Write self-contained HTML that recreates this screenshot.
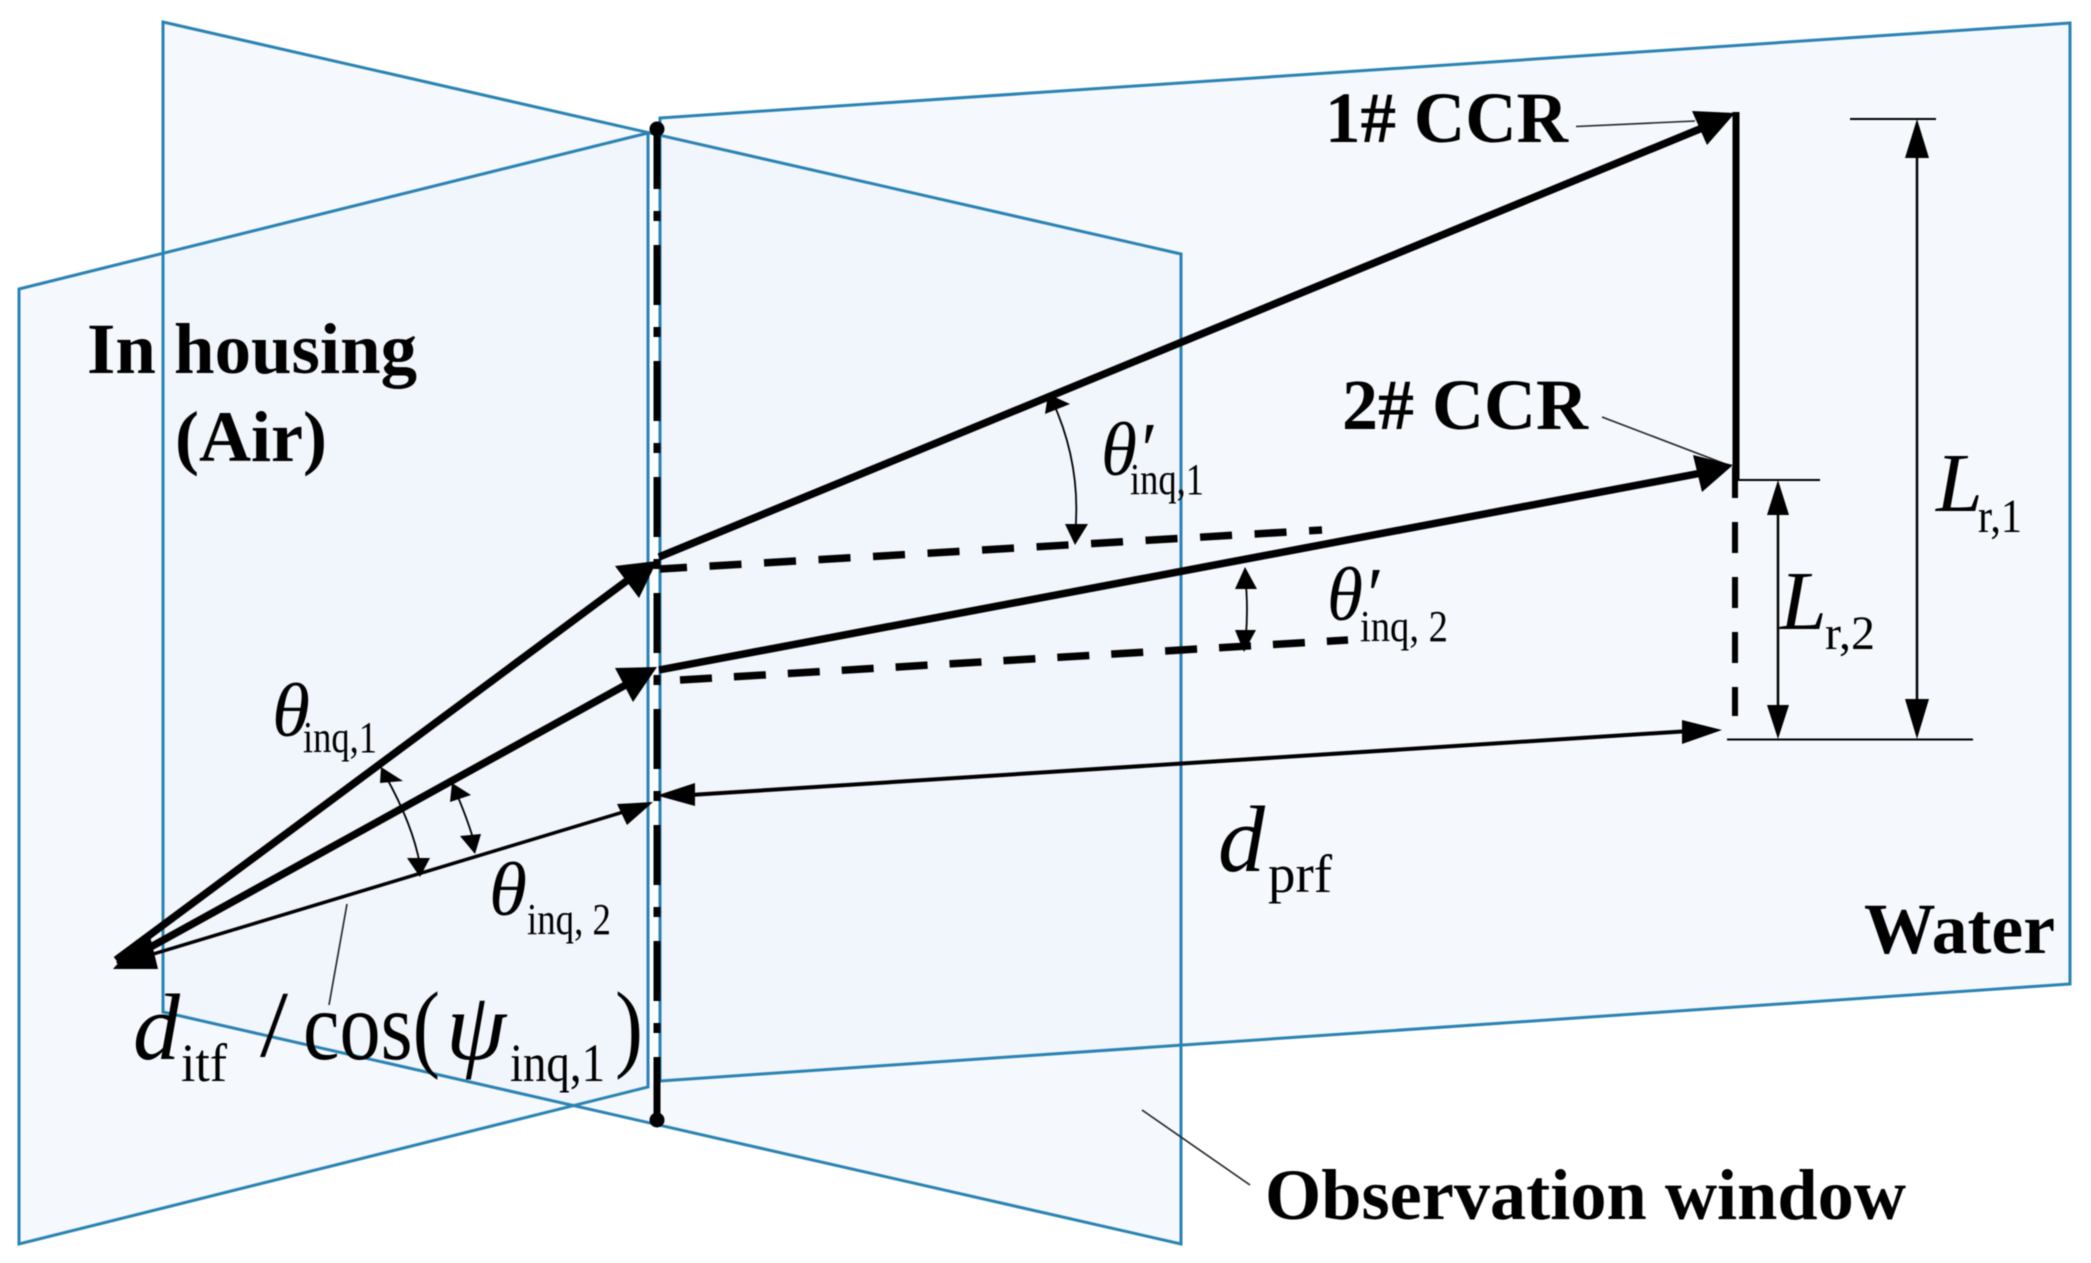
<!DOCTYPE html>
<html>
<head>
<meta charset="utf-8">
<style>
html,body{margin:0;padding:0;background:#fff;}
svg{display:block;filter:blur(0.6px);}
text{font-family:"Liberation Serif",serif;fill:#000;}
.b{font-weight:bold;font-size:72px;}
.i{font-style:italic;}
</style>
</head>
<body>
<svg width="2091" height="1263" viewBox="0 0 2091 1263" xmlns="http://www.w3.org/2000/svg">
<rect width="2091" height="1263" fill="#fff"/>
<!-- panel fills -->
<g fill="#eef4fc" fill-opacity="0.6" stroke="none">
<polygon points="660,118 2070,23 2070,984 660,1081"/>
<polygon points="163,22 1181,254 1181,1244 163,1012"/>
<polygon points="19,289 648,133 648,1087 19,1244"/>
</g>
<!-- central axis background -->
<line x1="654.5" y1="136" x2="654.5" y2="1082" stroke="#fff" stroke-width="9"/>
<!-- panel outlines -->
<g fill="none" stroke="#2a83b3" stroke-width="3" stroke-linejoin="miter">
<polygon points="660,118 2070,23 2070,984 660,1081"/>
<polygon points="163,22 1181,254 1181,1244 163,1012"/>
<polygon points="19,289 648,133 648,1087 19,1244"/>
</g>
<line x1="657" y1="129" x2="657" y2="1120" stroke="#000" stroke-width="7" stroke-dasharray="60 22 10 24"/>
<line x1="657" y1="1057" x2="657" y2="1120" stroke="#000" stroke-width="6"/>
<ellipse cx="657" cy="129" rx="7.5" ry="7.5" fill="#000"/>
<ellipse cx="657" cy="1120" rx="7.5" ry="7.5" fill="#000"/>
<!-- air rays -->
<g stroke="#000" fill="none">
<line x1="116" y1="960" x2="640" y2="571" stroke-width="7.5"/>
<line x1="118" y1="965" x2="640" y2="677" stroke-width="7.5"/>
<line x1="140" y1="958" x2="640" y2="807" stroke-width="3.5"/>
<!-- water rays -->
<line x1="659" y1="557" x2="1712" y2="124" stroke-width="7.5"/>
<line x1="659" y1="670" x2="1712" y2="471" stroke-width="7.5"/>
<!-- dashed -->
<line x1="660" y1="569" x2="1322" y2="530" stroke-width="7.5" stroke-dasharray="32 22.6" stroke-dashoffset="5"/>
<line x1="680" y1="680" x2="1348" y2="640" stroke-width="7.5" stroke-dasharray="32 22"/>
<!-- right vertical -->
<line x1="1736" y1="112" x2="1736" y2="480" stroke-width="7"/>
<line x1="1735" y1="467" x2="1735" y2="716" stroke-width="6" stroke-dasharray="31 24"/>
<!-- ticks -->
<line x1="1850" y1="119" x2="1936" y2="119" stroke-width="2"/>
<line x1="1738" y1="480" x2="1820" y2="480" stroke-width="2"/>
<line x1="1727" y1="739.5" x2="1973" y2="739.5" stroke-width="2"/>
<!-- dims -->
<line x1="1917" y1="150" x2="1917" y2="710" stroke-width="2.5"/>
<line x1="1778" y1="505" x2="1778" y2="715" stroke-width="2.5"/>
<line x1="690" y1="795" x2="1690" y2="731" stroke-width="4"/>
<!-- leaders -->
<g stroke="#222" stroke-width="1.6">
<line x1="1576" y1="126.5" x2="1695" y2="121"/>
<line x1="1602" y1="417" x2="1728" y2="465"/>
<line x1="1142" y1="1110" x2="1250" y2="1185"/>
<line x1="347" y1="904" x2="329" y2="1005"/>
</g>
<!-- arcs -->
<g stroke-width="1.8">
<path d="M385,775 Q413,825 420,865"/>
<path d="M455,790 Q468,820 475,845"/>
<path d="M1052,400 Q1082,465 1075,535"/>
<path d="M1245,575 Q1249,610 1245,645"/>
</g>
</g>
<!-- arrowheads -->
<g fill="#000">
<polygon points="657,561 615,566 639,598"/>
<polygon points="657,667 615,668 633,702"/>
<polygon points="653,802 617,804 627,825"/>
<polygon points="113,969 158,969 150,936 130,950"/>
<polygon points="1735,113 1692,111 1707,145"/>
<polygon points="1733,465 1693,455 1702,492"/>
<polygon points="1917,119 1905,158 1929,158"/>
<polygon points="1917,739 1905,699 1929,699"/>
<polygon points="1778,480 1767,515 1789,515"/>
<polygon points="1778,739 1767,705 1789,705"/>
<polygon points="657,795.5 695,783 695,806"/>
<polygon points="1722,730 1682,720 1682,744"/>
<polygon points="381,767 380,783 403,781"/>
<polygon points="420,877 407,858 430,858"/>
<polygon points="452,783 450,802 471,795"/>
<polygon points="475,854 460,836 481,834"/>
<polygon points="1048,394 1045,414 1070,404"/>
<polygon points="1075,545 1065,524 1088,524"/>
<polygon points="1245,567 1235,589 1257,589"/>
<polygon points="1244,652 1235,630 1256,630"/>
</g>
<!-- bold labels -->
<text class="b" x="87" y="373" textLength="330" lengthAdjust="spacingAndGlyphs">In housing</text>
<text class="b" x="175" y="461" textLength="152" lengthAdjust="spacingAndGlyphs">(Air)</text>
<text class="b" x="1325" y="142" textLength="243" lengthAdjust="spacingAndGlyphs">1# CCR</text>
<text class="b" x="1342" y="429" textLength="246" lengthAdjust="spacingAndGlyphs">2# CCR</text>
<text class="b" x="1864" y="953" textLength="191" lengthAdjust="spacingAndGlyphs">Water</text>
<text class="b" x="1265" y="1219" textLength="641" lengthAdjust="spacingAndGlyphs">Observation window</text>
<!-- math -->
<text class="i" x="272" y="736" font-size="76" textLength="38" lengthAdjust="spacingAndGlyphs">θ</text>
<text x="303" y="752" font-size="44" textLength="74" lengthAdjust="spacingAndGlyphs">inq,1</text>
<text class="i" x="489" y="915" font-size="76" textLength="38" lengthAdjust="spacingAndGlyphs">θ</text>
<text x="527" y="934" font-size="44" textLength="84" lengthAdjust="spacingAndGlyphs">inq, 2</text>
<text class="i" x="1101" y="475" font-size="76" textLength="52" lengthAdjust="spacingAndGlyphs">θ′</text>
<text x="1130" y="494" font-size="44" textLength="74" lengthAdjust="spacingAndGlyphs">inq,1</text>
<text class="i" x="1327" y="620" font-size="76" textLength="52" lengthAdjust="spacingAndGlyphs">θ′</text>
<text x="1360" y="641" font-size="44" textLength="88" lengthAdjust="spacingAndGlyphs">inq, 2</text>
<text class="i" x="133" y="1059" font-size="94">d</text>
<text x="181" y="1081" font-size="54" textLength="46" lengthAdjust="spacingAndGlyphs">itf</text>
<text x="260" y="1056" font-size="94" textLength="28" lengthAdjust="spacingAndGlyphs">/</text>
<text x="303" y="1059" font-size="98" textLength="137" lengthAdjust="spacingAndGlyphs">cos(</text>
<text class="i" x="446" y="1059" font-size="96" textLength="60" lengthAdjust="spacingAndGlyphs">ψ</text>
<text x="510" y="1081" font-size="54" textLength="95" lengthAdjust="spacingAndGlyphs">inq,1</text>
<text x="615" y="1059" font-size="98" textLength="28" lengthAdjust="spacingAndGlyphs">)</text>
<text class="i" x="1218" y="871" font-size="94">d</text>
<text x="1268" y="892" font-size="54" textLength="64" lengthAdjust="spacingAndGlyphs">prf</text>
<text class="i" x="1936" y="511" font-size="84">L</text>
<text x="1978" y="532" font-size="48" textLength="44" lengthAdjust="spacingAndGlyphs">r,1</text>
<text class="i" x="1780" y="629" font-size="84">L</text>
<text x="1825" y="649" font-size="48" textLength="50" lengthAdjust="spacingAndGlyphs">r,2</text>
</svg>
</body>
</html>
